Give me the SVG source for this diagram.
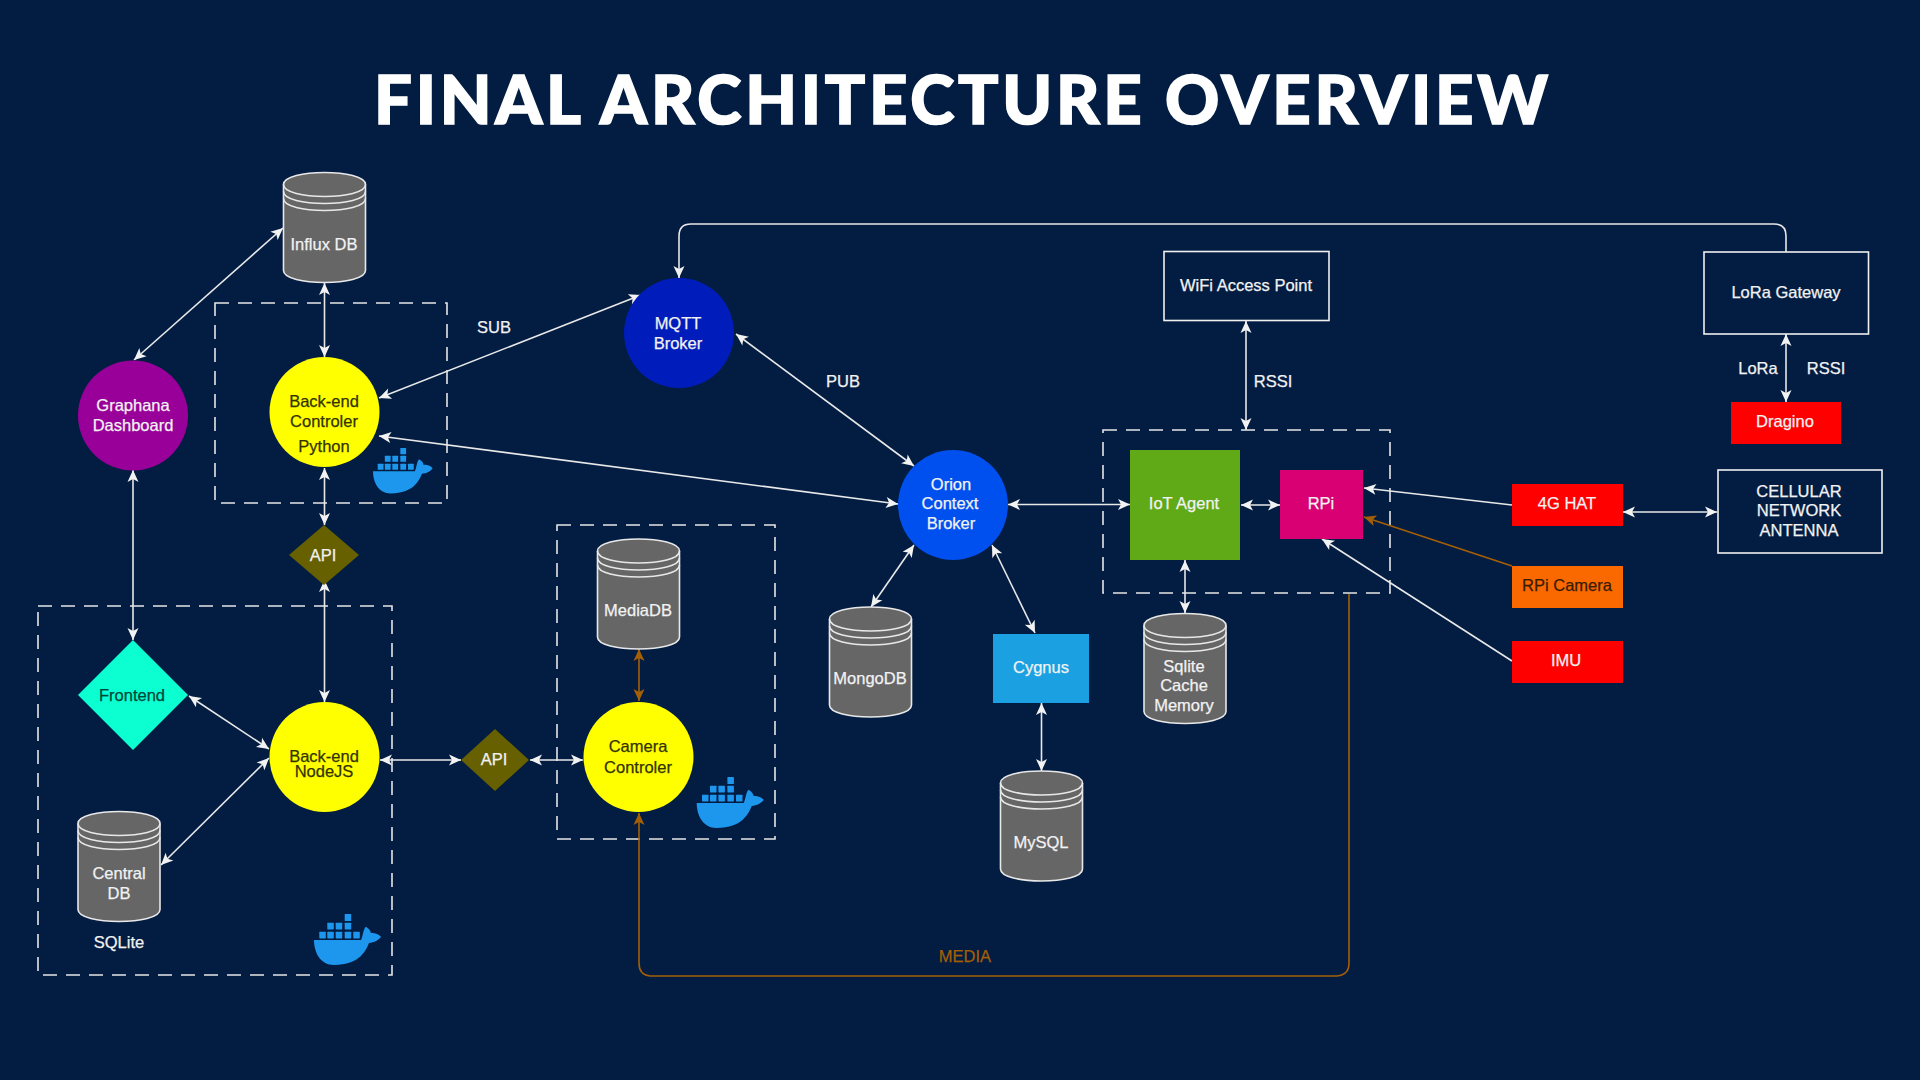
<svg xmlns="http://www.w3.org/2000/svg" xmlns:xlink="http://www.w3.org/1999/xlink" width="1920" height="1080" viewBox="0 0 1920 1080">
<style>
text{font-family:"Liberation Sans",Arial,sans-serif;font-size:16.5px;fill:#f2f2f2;stroke:#f2f2f2;stroke-width:.25;text-anchor:middle;dominant-baseline:central}
.title{font-family:"Lato","Open Sans",sans-serif;font-weight:900;font-size:67px;fill:#fff;stroke:#fff;stroke-width:1.6;dominant-baseline:auto}
.dk{fill:#333300;stroke:#333300}.tl{fill:#00473a;stroke:#00473a}.or{fill:#3a1c00;stroke:#3a1c00}
.box{fill:none;stroke:#e6e6e6;stroke-width:1.6;stroke-dasharray:14 9}
.wb{fill:none;stroke:#f0f0f0;stroke-width:1.6}
.c{fill:none;stroke:#e8e8e8;stroke-width:1.6}
.c.two{marker-start:url(#w);marker-end:url(#w)}
.c.one{marker-end:url(#w)}
.o{fill:none;stroke:#a45f06;stroke-width:1.6}
.o.two{marker-start:url(#b);marker-end:url(#b)}
.o.one{marker-end:url(#b)}
.cy{fill:#666;stroke:#e8e8e8;stroke-width:1.6}
.cyl{fill:none;stroke:#e8e8e8;stroke-width:1.6}
</style>
<defs>
<marker id="w" markerUnits="userSpaceOnUse" markerWidth="14" markerHeight="14" refX="13" refY="7" orient="auto-start-reverse"><path d="M1,1.5L13,7L1,12.5L4,7Z" fill="#f2f2f2"/></marker>
<marker id="b" markerUnits="userSpaceOnUse" markerWidth="14" markerHeight="14" refX="13" refY="7" orient="auto-start-reverse"><path d="M1,1.5L13,7L1,12.5L4,7Z" fill="#a45f06"/></marker>
<g id="cyl">
<path class="cy" d="M0,12C0,-4 82,-4 82,12V98C82,114 0,114 0,98Z"/>
<path class="cyl" d="M0,12C0,28 82,28 82,12M0,19C0,35 82,35 82,19M0,26C0,42 82,42 82,26"/>
</g>
<g id="whale" fill="#1d96ee">
<path d="M0,26H47C49,22 49,16 51.700,12.700C54,14 56.500,16 57,19C60,18.500 64,19.500 67,22.700C65,26 60,28.500 55,29C52,36 46,51 20,51C6,51 0,38 0,26Z"/>
<rect x="5.300" y="17.700" width="6.500" height="6.700" rx=".6"/><rect x="13.300" y="17.700" width="6.500" height="6.700" rx=".6"/><rect x="21.700" y="17.700" width="6.500" height="6.700" rx=".6"/><rect x="30.700" y="17.700" width="6.500" height="6.700" rx=".6"/><rect x="39.300" y="17.700" width="6.500" height="6.700" rx=".6"/>
<rect x="13.300" y="8.700" width="6.500" height="6.700" rx=".6"/><rect x="21.700" y="8.700" width="6.500" height="6.700" rx=".6"/><rect x="30.700" y="8.700" width="6.500" height="6.700" rx=".6"/>
<rect x="30.700" y="0" width="6.500" height="7" rx=".6"/>
</g>
</defs>
<rect id="background" width="1920" height="1080" fill="#031d42"/>
<text class="title" x="961" y="124" textLength="1174" lengthAdjust="spacing">FINAL ARCHITECTURE OVERVIEW</text>

<g id="containers">
<rect class="box" x="215" y="303" width="232" height="200"/>
<rect class="box" x="38" y="606" width="354" height="369"/>
<rect class="box" x="557" y="525" width="218" height="314"/>
<rect class="box" x="1103" y="430" width="287" height="163"/>
</g>

<g id="connectors">
<path class="c two" d="M283,228L134,360"/>
<path class="c two" d="M324.500,283V357"/>
<path class="c two" d="M379,398L641,295"/>
<path class="c two" d="M379,436L898,504"/>
<path class="c one" d="M1786,252V236Q1786,224 1774,224H691Q679,224 679,236V278"/>
<path class="c two" d="M736,334L914,466"/>
<path class="c two" d="M1008,504.500H1130"/>
<path class="c two" d="M914,545L871,607"/>
<path class="c two" d="M992,545L1035,633"/>
<path class="c two" d="M1041.500,703V771"/>
<path class="c two" d="M1185,560V613"/>
<path class="c two" d="M1241,505H1280"/>
<path class="c two" d="M1246,321V430"/>
<path class="c two" d="M1786,334V402"/>
<path class="c one" d="M1512,505L1364,488"/>
<path class="o one" d="M1512,566L1364,517"/>
<path class="c one" d="M1512,661L1322,539"/>
<path class="c two" d="M1623,512H1717"/>
<path class="c two" d="M324.500,468V525"/>
<path class="c two" d="M324.500,580V702"/>
<path class="c two" d="M133,470V640"/>
<path class="c two" d="M189,696L269,749"/>
<path class="c two" d="M161,865L269,758"/>
<path class="c two" d="M380,760H461"/>
<path class="c two" d="M530,760H583"/>
<path class="o two" d="M639,649V701"/>
<path class="o one" d="M1349,594V963Q1349,975 1337,976H650Q639,975 639,963V813"/>
</g>

<g id="influxdb"><use href="#cyl" x="283.500" y="172.500"/><text x="324" y="244">Influx DB</text></g>
<g id="graphana"><circle cx="133" cy="415.500" r="55" fill="#990099"/><text x="133" y="405">Graphana</text><text x="133" y="425">Dashboard</text></g>
<g id="backend-python"><circle cx="324.500" cy="412" r="55" fill="#ffff00"/><text class="dk" x="324" y="401">Back-end</text><text class="dk" x="324" y="421">Controler</text><text class="dk" x="324" y="446">Python</text></g>
<g id="docker-python"><use href="#whale" transform="translate(373,448) scale(.89)"/></g>
<g id="api-top"><path d="M324,525L359,555L324,585L289,555Z" fill="#666000"/><text x="323" y="555">API</text></g>
<g id="frontend"><path d="M133,640L188,695L133,750L78,695Z" fill="#0cffd0"/><text class="tl" x="132" y="695">Frontend</text></g>
<g id="backend-nodejs"><circle cx="324.500" cy="757" r="55" fill="#ffff00"/><text class="dk" x="324" y="756">Back-end</text><text class="dk" x="324" y="771">NodeJS</text></g>
<g id="central-db"><use href="#cyl" x="78" y="811.500"/><text x="119" y="873">Central</text><text x="119" y="893">DB</text></g>
<g id="sqlite-label"><text x="119" y="942">SQLite</text></g>
<g id="docker-nodejs"><use href="#whale" x="314" y="914"/></g>
<g id="api-mid"><path d="M495,729L529,760L495,791L461,760Z" fill="#666000"/><text x="494" y="759">API</text></g>
<g id="camera"><circle cx="638.500" cy="757" r="55" fill="#ffff00"/><text class="dk" x="638" y="746">Camera</text><text class="dk" x="638" y="767">Controler</text></g>
<g id="mediadb"><use href="#cyl" x="597.500" y="539"/><text x="638" y="610">MediaDB</text></g>
<g id="docker-camera"><use href="#whale" x="696.700" y="777"/></g>
<g id="mqtt"><circle cx="679" cy="333" r="55" fill="#001dbc"/><text x="678" y="323">MQTT</text><text x="678" y="343">Broker</text></g>
<g id="orion"><circle cx="953" cy="505" r="55" fill="#0050ef"/><text x="951" y="484">Orion</text><text x="950" y="503">Context</text><text x="951" y="523">Broker</text></g>
<g id="mongodb"><use href="#cyl" x="829.500" y="607"/><text x="870" y="678">MongoDB</text></g>
<g id="cygnus"><rect x="993" y="634" width="96" height="69" fill="#1ba1e2"/><text x="1041" y="667">Cygnus</text></g>
<g id="mysql"><use href="#cyl" x="1000.500" y="771"/><text x="1041" y="842">MySQL</text></g>
<g id="iot-agent"><rect x="1130" y="450" width="110" height="110" fill="#60a917"/><text x="1184" y="503">IoT Agent</text></g>
<g id="rpi"><rect x="1280" y="470" width="83" height="69" fill="#d80073"/><text x="1321" y="503">RPi</text></g>
<g id="sqlite-cache"><use href="#cyl" x="1144" y="613.500"/><text x="1184" y="666">Sqlite</text><text x="1184" y="685">Cache</text><text x="1184" y="705">Memory</text></g>
<g id="wifi"><rect class="wb" x="1164" y="251.500" width="165" height="69"/><text x="1246" y="285">WiFi Access Point</text></g>
<g id="lora"><rect class="wb" x="1704" y="252" width="164.500" height="82"/><text x="1786" y="292">LoRa Gateway</text></g>
<g id="dragino"><rect x="1731" y="402" width="110" height="42" fill="#ff0000"/><text x="1785" y="421">Dragino</text></g>
<g id="hat"><rect x="1512" y="484" width="111" height="42" fill="#ff0000"/><text x="1567" y="503">4G HAT</text></g>
<g id="rpi-camera"><rect x="1512" y="566" width="111" height="42" fill="#fa6800"/><text class="or" x="1567" y="585">RPi Camera</text></g>
<g id="imu"><rect x="1512" y="641" width="111" height="42" fill="#ff0000"/><text x="1566" y="660">IMU</text></g>
<g id="cellular"><rect class="wb" x="1718" y="470" width="164" height="83"/><text x="1799" y="491">CELLULAR</text><text x="1799" y="510">NETWORK</text><text x="1799" y="530">ANTENNA</text></g>

<g id="labels">
<text x="494" y="327">SUB</text>
<text x="843" y="381">PUB</text>
<text x="1273" y="381">RSSI</text>
<text x="1758" y="367.500">LoRa</text>
<text x="1826" y="367.500">RSSI</text>
<text x="965" y="955.500" style="fill:#a45f06;stroke:#a45f06">MEDIA</text>
</g>
</svg>
